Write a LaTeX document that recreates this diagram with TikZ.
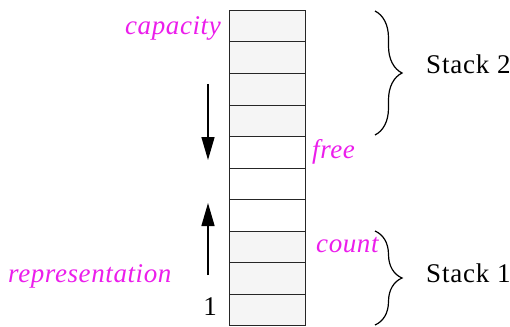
\documentclass[tikz,border=0pt]{standalone}
\usepackage{fontspec}
\setmainfont{Liberation Serif}
\usetikzlibrary{arrows.meta,decorations.pathreplacing}
\definecolor{lblmag}{RGB}{235,30,235}
\definecolor{cellgray}{RGB}{245,245,245}
\begin{document}
\begin{tikzpicture}[x=1pt,y=-1pt,
 cell/.style={draw=black!85,line width=1.4pt,minimum width=76pt,minimum height=#1,inner sep=0pt,outer sep=0pt,anchor=north west},
 cell/.default=31.5pt,
 used/.style={cell=#1,fill=cellgray},
 freecell/.style={cell=#1,fill=white},
 lbl/.style={text=lblmag,font=\fontsize{27}{30}\selectfont\itshape\addfontfeatures{LetterSpace=2.2},inner sep=0pt},
 txt/.style={font=\fontsize{27}{30}\selectfont\addfontfeatures{LetterSpace=3},inner sep=0pt},
 arr/.style={line width=1.4pt,-{Triangle[length=23pt,width=13pt]}},
 brc/.style={decorate,decoration={brace,amplitude=27pt,aspect=0.5},line width=1.2pt}]
\useasboundingbox (0,0) rectangle (510,326);
% cells
\node[used=31pt] (c1) at (229.5,10.5) {};
\node[used=32pt] (c2) at (229.5,41.5) {};
\node[used=32pt] (c3) at (229.5,73.5) {};
\node[used=31pt] (c4) at (229.5,105.5) {};
\node[freecell=32pt] (c5) at (229.5,136.5) {};
\node[freecell=31pt] (c6) at (229.5,168.5) {};
\node[freecell=32pt] (c7) at (229.5,199.5) {};
\node[used=31pt] (c8) at (229.5,231.5) {};
\node[used=32pt] (c9) at (229.5,262.5) {};
\node[used=31pt] (c10) at (229.5,294.5) {};
% labels
\node[lbl,anchor=base east] (cap) at (221,35) {capacity};
\node[lbl,anchor=base west] (fr) at (312,158) {free};
\node[lbl,anchor=base west] (cnt) at (316,252) {count};
\node[lbl,anchor=base west] (rep) at (8,282) {representation};
\node[font=\fontsize{27}{30}\selectfont,inner sep=0pt,anchor=base east] (one) at (217,315) {1};
\node[txt,anchor=base west] (s2) at (426,74) {Stack 2\kern-1pt};
\node[txt,anchor=base west] (s1) at (426,282) {Stack 1\kern-1pt};
% arrows
\coordinate (d1) at (208,84);
\coordinate (d2) at (208,160);
\coordinate (u1) at (208,275);
\coordinate (u2) at (208,203);
\draw[arr] (d1) -- (d2);
\draw[arr] (u1) -- (u2);
% braces
\coordinate (b2t) at (375,11);
\coordinate (b2b) at (375,135);
\coordinate (b1t) at (375,231);
\coordinate (b1b) at (375,325);
\draw[brc] (b2t) -- (b2b);
\draw[brc] (b1t) -- (b1b);
\end{tikzpicture}
\end{document}
